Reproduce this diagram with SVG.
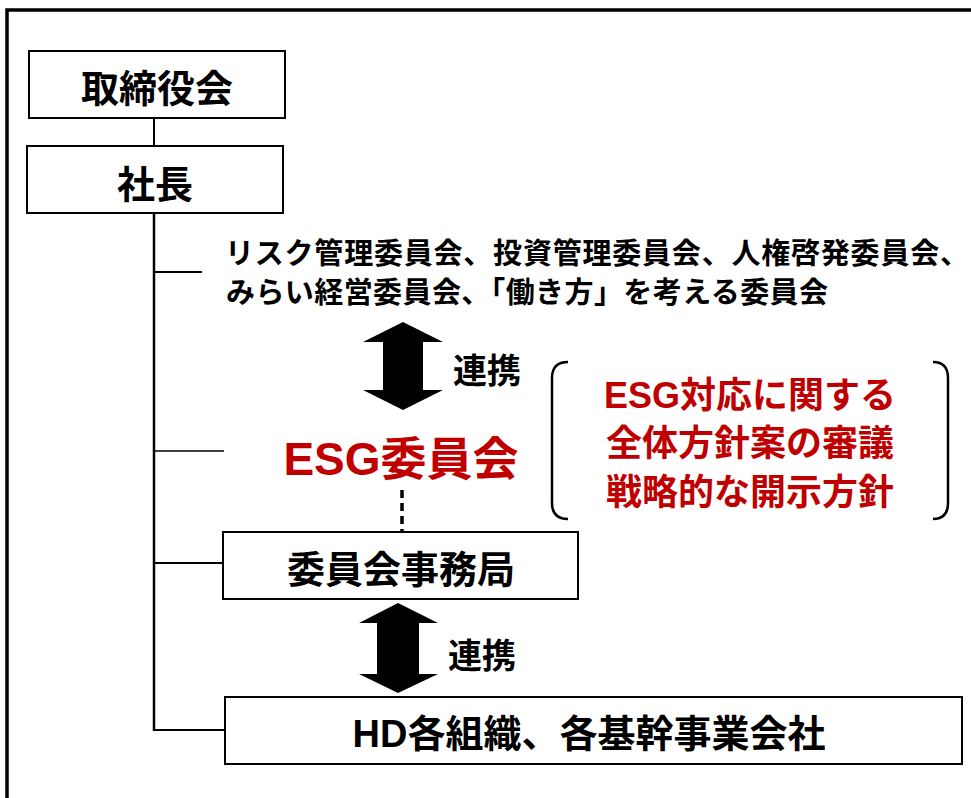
<svg xmlns="http://www.w3.org/2000/svg" width="971" height="798" viewBox="0 0 971 798">
<style>
text{font-family:"Liberation Sans","Noto Sans CJK JP",sans-serif;font-weight:bold;fill:#000}
.box{fill:#fff;stroke:#000;stroke-width:2}
.big{font-size:38px;text-anchor:middle}
.lbl{font-size:34px}
.red{fill:#C00000;text-anchor:middle}
.ln{stroke:#000;fill:none}
</style>
<rect x="0" y="0" width="971" height="798" fill="#fff"/>
<rect x="7" y="10" width="990" height="820" fill="none" stroke="#000" stroke-width="3.5"/>
<g id="connectors">
<line class="ln" x1="154" y1="118" x2="154" y2="146" stroke-width="2"/>
<line class="ln" x1="154" y1="213" x2="154" y2="731" stroke-width="2.5"/>
<line class="ln" x1="154" y1="272" x2="202" y2="272" stroke-width="2"/>
<line class="ln" x1="154" y1="451" x2="224" y2="451" stroke-width="1.5"/>
<line class="ln" x1="154" y1="563" x2="223" y2="563" stroke-width="2"/>
<line class="ln" x1="154" y1="730" x2="225" y2="730" stroke-width="2"/>
<line class="ln" x1="402" y1="490" x2="402" y2="532" stroke-width="3.5" stroke-dasharray="8,5"/>
<polygon id="arrow1" points="403,322 443,342 423,342 423,390 443,390 403,410 363,390 383,390 383,342 363,342" fill="#000"/>
<polygon id="arrow2" points="398,603 438,623 419,623 419,674 438,674 398,693 359,674 377,674 377,623 359,623" fill="#000"/>
<text class="lbl" x="453" y="383">連携</text>
<text class="lbl" x="448" y="668">連携</text>
</g>
<g id="board">
<rect class="box" x="29" y="51" width="256" height="67"/>
<text class="big" x="157" y="102">取締役会</text>
</g>
<g id="president">
<rect class="box" x="27" y="146" width="256" height="67"/>
<text class="big" x="155" y="198">社長</text>
</g>
<g id="committees">
<text x="225" y="264" font-size="29" textLength="744">リスク管理委員会、投資管理委員会、人権啓発委員会、</text>
<text x="226" y="303" font-size="29" textLength="602">みらい経営委員会、「働き方」を考える委員会</text>
</g>
<g id="esg">
<text class="red" x="401" y="475" font-size="46">ESG委員会</text>
</g>
<g id="esg-note">
<path class="ln" stroke-width="2.5" d="M568 362 Q552 362 552 378 L552 503 Q552 519 568 519"/>
<path class="ln" stroke-width="2.5" d="M933 362 Q948 362 948 378 L948 503 Q948 519 933 519"/>
<text class="red" x="750" y="408" font-size="36">ESG対応に関する</text>
<text class="red" x="750" y="456" font-size="36">全体方針案の審議</text>
<text class="red" x="750" y="505" font-size="36">戦略的な開示方針</text>
</g>
<g id="secretariat">
<rect class="box" x="223" y="532" width="355" height="67"/>
<text class="big" x="401" y="583" font-size="39">委員会事務局</text>
</g>
<g id="group">
<rect class="box" x="225" y="697" width="737" height="67"/>
<text class="big" x="589" y="747">HD各組織、各基幹事業会社</text>
</g>
</svg>
